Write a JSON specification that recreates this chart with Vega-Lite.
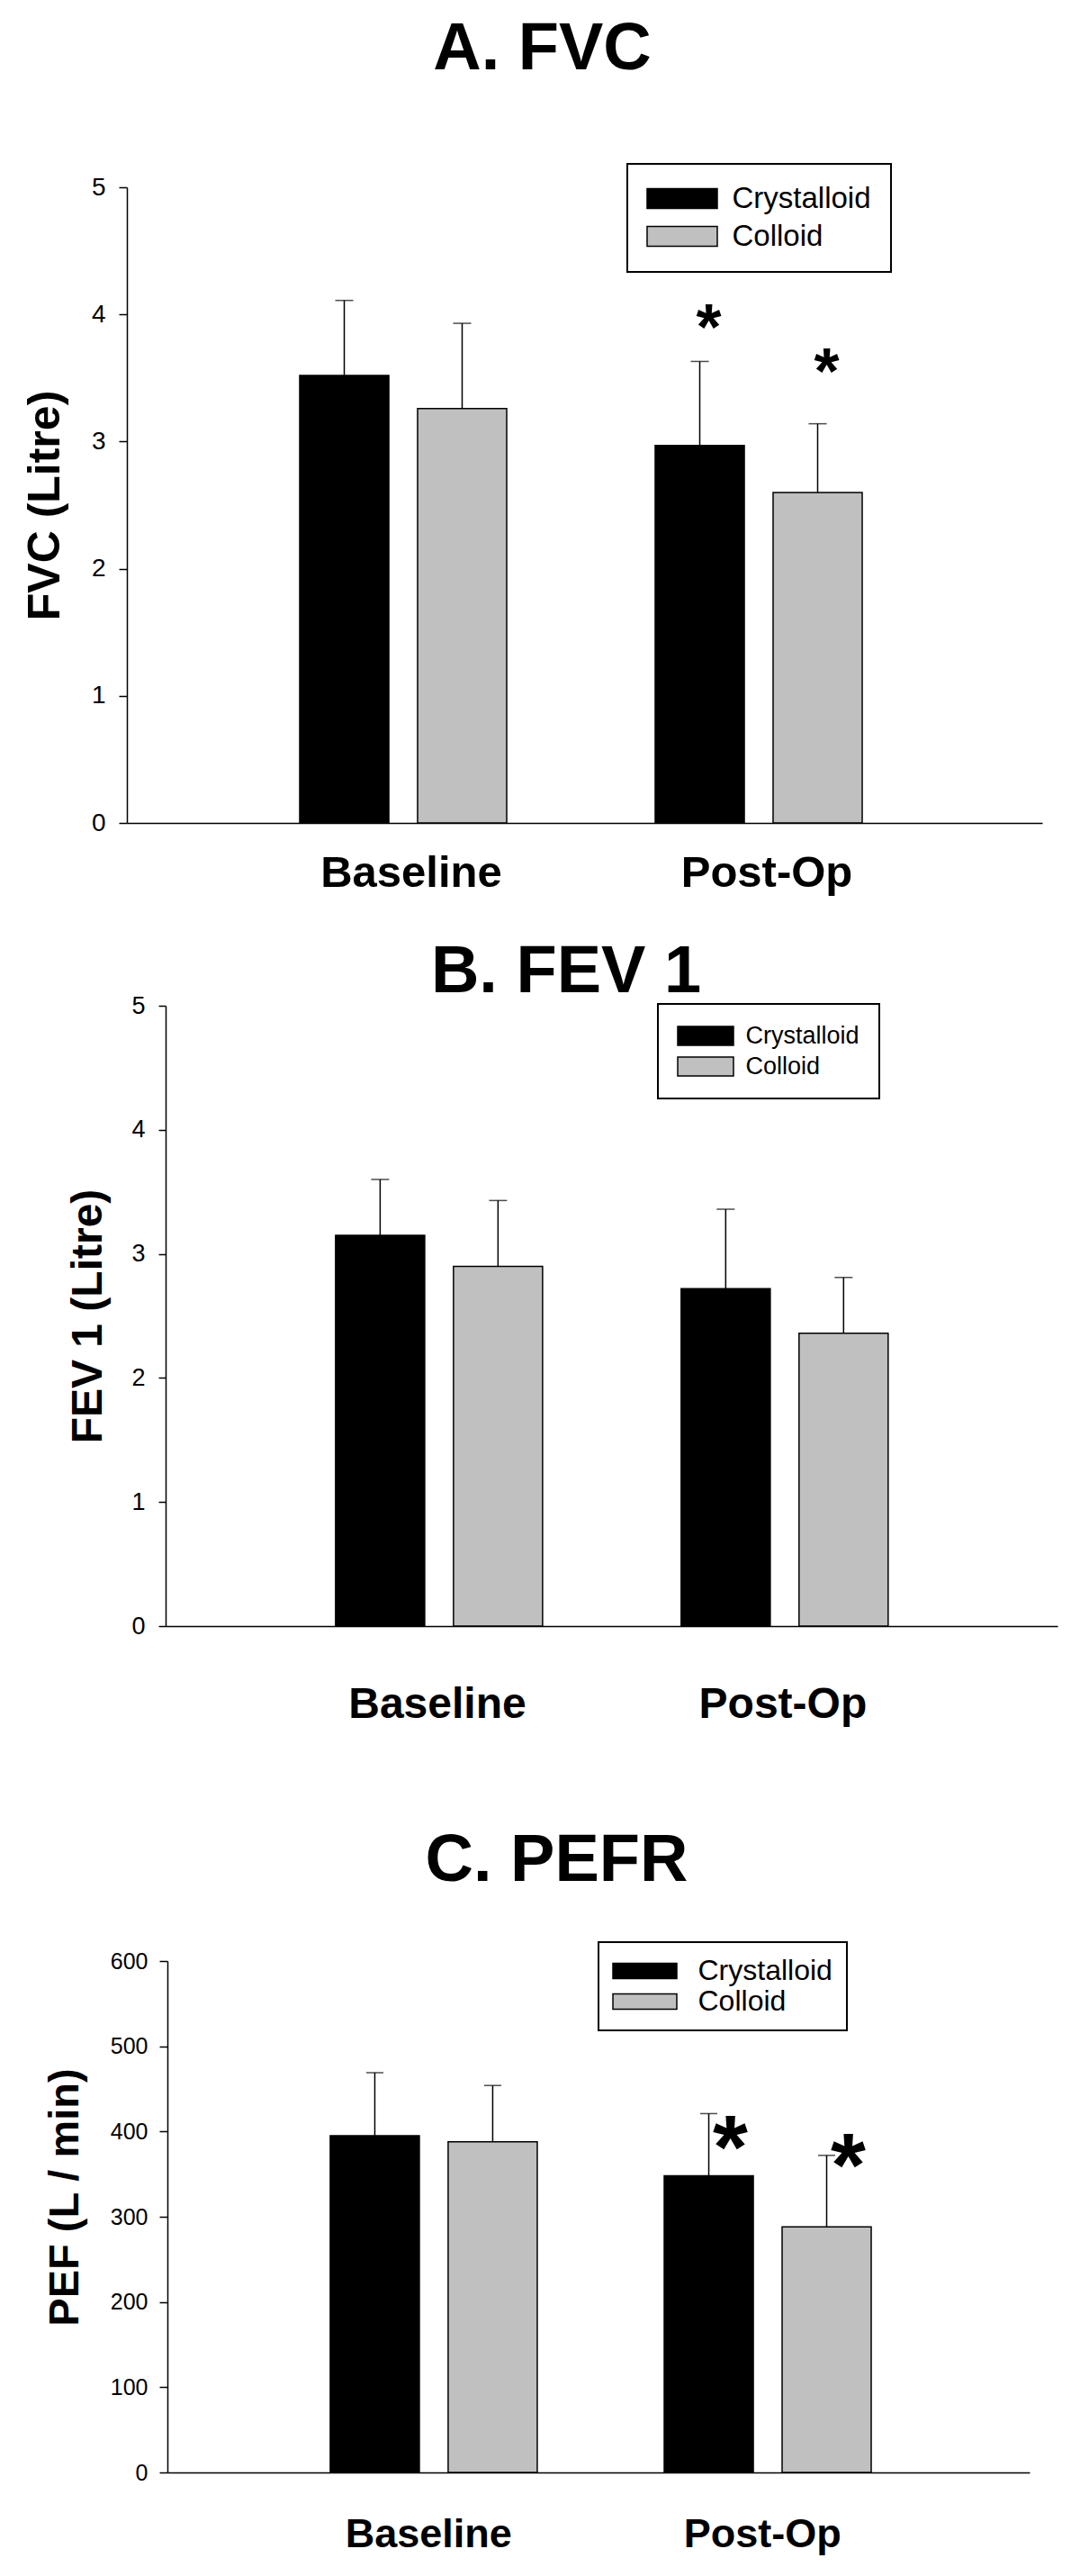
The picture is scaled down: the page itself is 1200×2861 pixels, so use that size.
{
  "$schema": "https://vega.github.io/schema/vega-lite/v6.json",
  "padding": {"left": 25, "top": 18, "right": 5, "bottom": 5},
  "background": "white",
  "config": {
    "font": "Liberation Sans",
    "view": {"stroke": null},
    "axis": {"labelColor": "black", "titleColor": "black", "domainColor": "black", "tickColor": "black", "grid": false, "domainWidth": 1.5, "tickWidth": 1.5},
    "axisX": {"labelLimit": 0},
    "legend": {"strokeWidth": 2, "strokeColor": "black", "fillColor": "white", "labelColor": "black"}
  },
  "datasets": {
    "fvc": [
      {"group": "Baseline", "fluid": "Crystalloid", "mean": 3.52, "upper": 4.11},
      {"group": "Baseline", "fluid": "Colloid", "mean": 3.26, "upper": 3.93},
      {"group": "Post-Op", "fluid": "Crystalloid", "mean": 2.97, "upper": 3.63, "star": 3.725, "sig": "*"},
      {"group": "Post-Op", "fluid": "Colloid", "mean": 2.60, "upper": 3.14, "star": 3.38, "sig": "*"}
    ],
    "fev": [
      {"group": "Baseline", "fluid": "Crystalloid", "mean": 3.15, "upper": 3.60},
      {"group": "Baseline", "fluid": "Colloid", "mean": 2.90, "upper": 3.43},
      {"group": "Post-Op", "fluid": "Crystalloid", "mean": 2.72, "upper": 3.36},
      {"group": "Post-Op", "fluid": "Colloid", "mean": 2.36, "upper": 2.81}
    ],
    "pef": [
      {"group": "Baseline", "fluid": "Crystalloid", "mean": 395, "upper": 469},
      {"group": "Baseline", "fluid": "Colloid", "mean": 388, "upper": 454},
      {"group": "Post-Op", "fluid": "Crystalloid", "mean": 348, "upper": 421, "star": 345, "sig": "*"},
      {"group": "Post-Op", "fluid": "Colloid", "mean": 288, "upper": 372, "star": 324, "sig": "*"}
    ]
  },
  "resolve": {"scale": {"color": "independent"}, "legend": {"color": "independent"}},
  "spacing": 113,
  "vconcat": [
    {
      "spacing": 49,
      "resolve": {"scale": {"color": "independent"}, "legend": {"color": "independent"}},
      "vconcat": [
        {
          "width": 1017,
          "height": 706,
          "data": {"name": "fvc"},
          "title": {"text": "A. FVC", "fontSize": 74, "fontWeight": "bold", "color": "black", "anchor": "middle", "frame": "group", "baseline": "alphabetic", "offset": 30, "dx": -47},
          "encoding": {
            "x": {"field": "group", "type": "nominal", "sort": ["Baseline", "Post-Op"],
              "scale": {"paddingInner": 0.4177, "paddingOuter": 0.4962, "align": 0.4898},
              "axis": {"title": null, "ticks": false, "labelAngle": 0, "labelFontSize": 49, "labelFontWeight": "bold", "labelPadding": 31, "labelOffset": 9, "labelLimit": 0}},
            "xOffset": {"field": "fluid", "type": "nominal", "sort": ["Crystalloid", "Colloid"], "scale": {"paddingInner": 0.244, "paddingOuter": 0}}
          },
          "layer": [
            {
              "mark": {"type": "bar", "stroke": "black", "strokeWidth": 1.5},
              "encoding": {
                "y": {"field": "mean", "type": "quantitative", "scale": {"domain": [0, 5], "nice": false},
                  "axis": {"title": "FVC (Litre)", "titleFontSize": 50, "titleFontWeight": "bold", "titleX": -76, "titleBaseline": "alphabetic", "values": [0, 1, 2, 3, 4, 5], "format": "d", "labelFontSize": 28, "labelPadding": 15, "tickSize": 9}},
                "color": {"field": "fluid", "type": "nominal", "scale": {"domain": ["Crystalloid", "Colloid"], "range": ["#000000", "#c0c0c0"]},
                  "legend": {"orient": "none", "legendX": 556, "legendY": -26, "title": null, "labelFontSize": 33, "symbolType": "M-3.545,-1H3.545V1H-3.545Z", "symbolSize": 484, "symbolStrokeColor": "black", "symbolStrokeWidth": 1.5, "symbolOpacity": 1, "symbolOffset": 22.5, "labelOffset": 39, "rowPadding": 8, "padding": 22}}
              }
            },
            {
              "mark": {"type": "rule", "color": "black", "strokeWidth": 1.5},
              "encoding": {"y": {"field": "mean", "type": "quantitative"}, "y2": {"field": "upper"}}
            },
            {
              "mark": {"type": "tick", "color": "black", "size": 20, "thickness": 1.5, "orient": "horizontal"},
              "encoding": {"y": {"field": "upper", "type": "quantitative"}}
            },
            {
              "transform": [{"filter": "isValid(datum.star)"}],
              "mark": {"type": "text", "fontSize": 72, "fontWeight": "bold", "color": "black", "baseline": "alphabetic", "align": "center", "dx": 10},
              "encoding": {"y": {"field": "star", "type": "quantitative"}, "text": {"field": "sig"}}
            }
          ]
        },
        {
          "width": 1034,
          "height": 689,
          "data": {"name": "fev"},
          "title": {"text": "B. FEV 1", "fontSize": 74, "fontWeight": "bold", "color": "black", "anchor": "middle", "frame": "group", "baseline": "alphabetic", "offset": -73, "dx": -29},
          "encoding": {
            "x": {"field": "group", "type": "nominal", "sort": ["Baseline", "Post-Op"],
              "scale": {"paddingInner": 0.411, "paddingOuter": 0.552, "align": 0.547},
              "axis": {"title": null, "ticks": false, "labelAngle": 0, "labelFontSize": 48, "labelFontWeight": "bold", "labelPadding": 63, "labelLimit": 0, "domainDash": [0, 43, 3000]}},
            "xOffset": {"field": "fluid", "type": "nominal", "sort": ["Crystalloid", "Colloid"], "scale": {"paddingInner": 0.234, "paddingOuter": 0}}
          },
          "layer": [
            {
              "mark": {"type": "bar", "stroke": "black", "strokeWidth": 1.5},
              "encoding": {
                "y": {"field": "mean", "type": "quantitative", "scale": {"domain": [0, 5], "nice": false},
                  "axis": {"title": "FEV 1 (Litre)", "titleFontSize": 48, "titleFontWeight": "bold", "titleX": -72, "titleBaseline": "alphabetic", "offset": -43, "values": [0, 1, 2, 3, 4, 5], "format": "d", "labelFontSize": 27, "labelPadding": 15, "tickSize": 8}},
                "color": {"field": "fluid", "type": "nominal", "scale": {"domain": ["Crystalloid", "Colloid"], "range": ["#000000", "#c0c0c0"]},
                  "legend": {"orient": "none", "legendX": 590, "legendY": -2, "title": null, "labelFontSize": 27, "symbolType": "M-2.952,-1H2.952V1H-2.952Z", "symbolSize": 441, "symbolStrokeColor": "black", "symbolStrokeWidth": 1.5, "symbolOpacity": 1, "symbolOffset": 17.5, "labelOffset": 31, "rowPadding": 6, "padding": 22}}
              }
            },
            {
              "mark": {"type": "rule", "color": "black", "strokeWidth": 1.5},
              "encoding": {"y": {"field": "mean", "type": "quantitative"}, "y2": {"field": "upper"}}
            },
            {
              "mark": {"type": "tick", "color": "black", "size": 20, "thickness": 1.5, "orient": "horizontal"},
              "encoding": {"y": {"field": "upper", "type": "quantitative"}}
            }
          ]
        }
      ]
    },
    {
      "width": 1003,
      "height": 568,
      "data": {"name": "pef"},
      "title": {"text": "C. PEFR", "fontSize": 74, "fontWeight": "bold", "color": "black", "anchor": "middle", "frame": "group", "baseline": "alphabetic", "offset": -7, "dx": -24},
      "encoding": {
        "x": {"field": "group", "type": "nominal", "sort": ["Baseline", "Post-Op"],
          "scale": {"paddingInner": 0.411, "paddingOuter": 0.557, "align": 0.5466},
          "axis": {"title": null, "ticks": false, "labelAngle": 0, "labelFontSize": 45, "labelFontWeight": "bold", "labelPadding": 46, "labelLimit": 0, "domainDash": [0, 45, 3000]}},
        "xOffset": {"field": "fluid", "type": "nominal", "sort": ["Crystalloid", "Colloid"], "scale": {"paddingInner": 0.241, "paddingOuter": 0}}
      },
      "layer": [
        {
          "mark": {"type": "bar", "stroke": "black", "strokeWidth": 1.5},
          "encoding": {
            "y": {"field": "mean", "type": "quantitative", "scale": {"domain": [0, 600], "nice": false},
              "axis": {"title": "PEF (L / min)", "titleFontSize": 47, "titleFontWeight": "bold", "titleX": -100, "titleY": 262, "titleBaseline": "alphabetic", "offset": -45, "values": [0, 100, 200, 300, 400, 500, 600], "format": "d", "labelFontSize": 25, "labelPadding": 13, "tickSize": 9}},
            "color": {"field": "fluid", "type": "nominal", "scale": {"domain": ["Crystalloid", "Colloid"], "range": ["#000000", "#c0c0c0"]},
              "legend": {"orient": "none", "legendX": 524, "legendY": -21, "title": null, "labelFontSize": 32, "symbolType": "M-4.176,-1H4.176V1H-4.176Z", "symbolSize": 289, "symbolStrokeColor": "black", "symbolStrokeWidth": 1.5, "symbolOpacity": 1, "symbolOffset": 19.5, "labelOffset": 43, "rowPadding": 2, "padding": 16}}
          }
        },
        {
          "mark": {"type": "rule", "color": "black", "strokeWidth": 1.5},
          "encoding": {"y": {"field": "mean", "type": "quantitative"}, "y2": {"field": "upper"}}
        },
        {
          "mark": {"type": "tick", "color": "black", "size": 19, "thickness": 1.5, "orient": "horizontal"},
          "encoding": {"y": {"field": "upper", "type": "quantitative"}}
        },
        {
          "transform": [{"filter": "isValid(datum.star)"}],
          "mark": {"type": "text", "fontSize": 100, "fontWeight": "bold", "color": "black", "baseline": "alphabetic", "align": "center", "dx": 24},
          "encoding": {"y": {"field": "star", "type": "quantitative"}, "text": {"field": "sig"}}
        }
      ]
    }
  ]
}
